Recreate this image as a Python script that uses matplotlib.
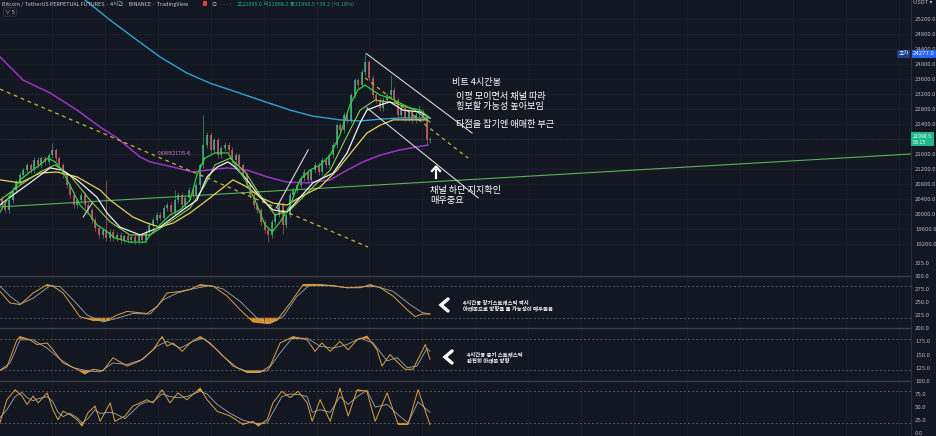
import numpy as np
import matplotlib
matplotlib.use("Agg")
import matplotlib.pyplot as plt
from matplotlib.lines import Line2D
from matplotlib.patches import Rectangle

plt.rcParams['font.family'] = ['Noto Sans CJK KR', 'DejaVu Sans']

W, H = 936, 436
BG = '#131722'
TXT = '#b2b5be'

# ───────────── price data (4h candles) ─────────────
closes = [20240, 20100, 20370, 20640, 20850, 21040, 21170, 21300, 21170, 21440,
          21300, 21490, 21390, 21570, 21700, 21490, 21300, 21040, 20770, 20510,
          20240, 20370, 20510, 20240, 20100, 19840, 19630, 19440, 19570, 19360,
          19520, 19360, 19440, 19300, 19410, 19300, 19380, 19280, 19410, 19300,
          19520, 19710, 19840, 19980, 19900, 20160, 20240, 20050, 20370, 20510,
          20240, 20430, 20640, 20510, 20770, 21300, 21840, 22110, 21710, 21970,
          21570, 21760, 21840, 21710, 21440, 21570, 21300, 21040, 20770, 20510,
          20240, 20100, 19790, 19570, 19440, 19790, 19980, 20240, 19710, 19980,
          20510, 20640, 20770, 20960, 21120, 20910, 21170, 21310, 21120, 21440,
          21310, 21570, 21840, 22370, 22240, 22640, 22510, 23170, 23570, 23440,
          23790, 24050, 23630, 23170, 23040, 22830, 23040, 23170, 23310, 23040,
          22640, 22830, 22560, 22720, 22510, 22640, 22720, 22560, 21970, 21990]
first_open = 20400
high_spikes = {14: 21890, 29: 20900, 48: 20640, 56: 22640, 101: 24277, 108: 23700, 116: 22900}
low_spikes = {33: 19200, 74: 19250, 78: 19480, 118: 21870}

# moving averages  (bar, price)
ma_green = [(0, 20050), (2.8, 20510), (5.6, 20910), (8.3, 21120), (11.1, 21310), (13.3, 21490),
            (15.3, 21390), (17.2, 21170), (19.4, 20770), (22.2, 20240), (25, 19970), (26.9, 19710),
            (29.2, 19570), (31.9, 19360), (36.1, 19250), (40.3, 19250), (41.7, 19440), (44.4, 19710),
            (47.2, 19970), (50, 20110), (52.8, 20370), (54.7, 21040), (56.9, 21490), (59.7, 21630),
            (63.3, 21630), (65.3, 21310), (68.1, 20910), (70.8, 20370), (73.6, 19710), (75.6, 19520),
            (77.8, 19790), (80.6, 20240), (83.3, 20910), (86.1, 21170), (88.9, 21310), (91.7, 21570),
            (94.4, 22110), (97.2, 22910), (99.4, 23310), (101.4, 23440), (103.3, 23310), (105.6, 23170),
            (108.3, 23090), (111.1, 22960), (113.9, 22830), (116.7, 22770), (119.4, 22560)]
ma_lime = [(0, 20370), (5.6, 20770), (11.1, 21120), (15.3, 21310), (19.4, 21040), (25, 20370),
           (30.6, 19790), (36.1, 19440), (41.7, 19440), (47.2, 19790), (52.8, 20160), (56.9, 20770),
           (59.7, 21310), (63.9, 21490), (68.1, 21120), (72.2, 20510), (76.4, 19970), (80.6, 20110),
           (86.1, 20640), (91.7, 21170), (95.8, 21970), (100, 22770), (104.2, 23040), (109.7, 22960),
           (115.3, 22770), (119.4, 22450)]
ma_white = [(0, 20240), (2.8, 20450), (8.3, 20830), (13.9, 21230), (17.2, 21170), (21.4, 20910),
            (26.9, 20450), (29.7, 20030), (33.3, 19650), (38.9, 19440), (44.4, 19650), (50.8, 20110),
            (54.7, 20370), (57.5, 20990), (60.3, 21250), (63.3, 21390), (65.3, 21250), (68.6, 20910),
            (72.2, 20450), (75.8, 20110), (79.7, 20050), (86.9, 20830), (92.5, 21090), (96.4, 21630),
            (100, 22430), (101.9, 22770), (105.6, 22910), (108.3, 22990), (111.9, 22770),
            (116.7, 22720), (119.4, 22560)]
ma_yellow = [(0, 20910), (5.6, 20830), (11.1, 21090), (15.8, 21120), (21.4, 20990), (27.8, 20640),
             (30.6, 20370), (36.9, 19920), (40.8, 19760), (44.4, 19650), (48.1, 19760), (52.8, 20030),
             (57.5, 20370), (61.1, 20640), (64.7, 20910), (68.6, 20720), (72.2, 20450), (75.8, 20290),
             (79.7, 20240), (83.3, 20450), (88.9, 20720), (93.6, 21170), (98.1, 21710), (101.9, 22160),
             (105.6, 22370), (109.2, 22510), (114.7, 22510), (118.6, 22510)]
ma_purple = [(0, 24190), (6.4, 23570), (13.9, 23230), (21.4, 22770), (27.8, 22320), (32.5, 22030),
             (38.9, 21520), (41.7, 21390), (48.1, 21250), (53.6, 21120), (57.5, 21170), (63.1, 21230),
             (68.6, 21170), (74.2, 20990), (79.7, 20850), (85.3, 20830), (91.7, 20910), (96.4, 21170),
             (100.8, 21390), (105.6, 21570), (111.1, 21710), (115.8, 21790), (118.9, 21840)]
ma_cyan = [(22, 25800), (23.6, 25710), (30.6, 25170), (36.9, 24720), (44.4, 24190), (51.9, 23760),
           (58.3, 23490), (65.8, 23250), (73.1, 23010), (80.6, 22770), (86.9, 22610), (94.4, 22510),
           (100, 22480), (105.6, 22530), (111.1, 22560), (118.9, 22560)]

# drawings
trend_green = [(0, 20190), (253, 21600)]
dash_a = [(0, 23330), (102.2, 19120)]
dash_b = [(101.4, 23630), (130, 21490)]
chan_top = [(101.7, 24280), (131.1, 22160)]
chan_bot = [(101.9, 22830), (132.8, 20430)]
small_w1 = [(76.9, 20190), (85.6, 21710)]
small_w2 = [(23.1, 19920), (25.6, 20290)]

# ───────────── stochastic panes (bar, %K / %D) ─────────────
s1_kx = [0, 2.8, 5.6, 9.2, 13.1, 14.7, 17.5, 22.2, 25.8, 29.7, 32.5, 35.3, 40.8, 43.6, 46.4, 50,
         52.8, 55.6, 59.2, 63.1, 66.7, 70.3, 74.2, 76.9, 80.6, 84.2, 88.9, 92.5, 96.4, 100, 102.8,
         105.6, 109.2, 113.1, 115.3, 117.2, 119.4]
s1_k = [70, 48, 45, 67, 83, 80, 67, 22, 15, 15, 25, 32, 28, 41, 67, 70, 74, 83, 80, 61, 35, 12, 9,
        15, 48, 83, 83, 81, 77, 77, 83, 77, 61, 35, 22, 27, 27]
s1_dx = [0, 2.8, 5.6, 9.2, 13.9, 16.7, 20.3, 24.2, 28.6, 32.5, 36.9, 41.7, 45.3, 49.2, 53.6, 58.3,
         61.9, 66.7, 71.4, 75, 78.6, 82.5, 86.1, 91.7, 96.4, 100.8, 104.7, 109.2, 113.9, 117.2, 119.4]
s1_d = [80, 61, 46, 57, 81, 79, 54, 25, 12, 19, 28, 27, 54, 67, 75, 81, 75, 51, 19, 9, 22, 61, 83,
        81, 77, 79, 79, 70, 45, 30, 27]

s2_kx = [0, 1.9, 4.7, 5.6, 8.3, 10.3, 13.1, 14.7, 17.5, 21.4, 23.6, 25.8, 28.6, 31.4, 35.3, 38.9,
         42.5, 45, 46.4, 48.1, 50.6, 52.8, 55.6, 58.3, 61.9, 65.8, 68.6, 72.2, 75, 77.8, 81.4, 85.3,
         87.5, 89.4, 91.7, 94.4, 96.7, 99.2, 101.9, 104.7, 106.1, 108.3, 110.6, 112.5, 114.7, 118.1,
         119.4]
s2_k = [20, 26, 78, 84, 78, 69, 72, 59, 34, 22, 13, 22, 19, 44, 28, 38, 59, 84, 66, 72, 56, 72, 84,
        72, 47, 25, 16, 16, 28, 72, 84, 78, 56, 72, 56, 75, 59, 78, 85, 59, 28, 50, 34, 22, 22, 69, 41]
s2_dx = [0, 2.8, 5.6, 9.2, 13.1, 16.7, 20.3, 24.2, 27.8, 31.4, 35.3, 39.7, 43.6, 46.4, 50, 53.6,
         56.4, 60.3, 64.7, 69.4, 74.2, 77.8, 81.1, 85.3, 88.9, 92.5, 96.4, 100, 103.6, 107.5, 110.3,
         113.1, 115.8, 118.6, 119.4]
s2_d = [20, 34, 78, 78, 62, 41, 25, 19, 17, 34, 31, 41, 66, 75, 62, 75, 81, 59, 28, 16, 19, 53, 81,
        81, 66, 62, 69, 81, 72, 38, 44, 25, 28, 62, 56]

s3_x = [0, 1.9, 4.2, 6.1, 7.5, 9.2, 10.6, 13.1, 14.7, 16.1, 17.5, 19.4, 21.4, 22.8, 24.4, 26.4,
        27.8, 30.6, 31.9, 34.7, 36.9, 38.9, 40.8, 42.5, 45, 47.2, 49.4, 51.9, 55.6, 57.5, 60.3, 63.9,
        67.5, 70.3, 71.7, 74.2, 75.8, 78.3, 80.6, 82.8, 85.3, 86.7, 88.9, 91.7, 94.4, 96.7, 99.2,
        101.9, 104.2, 107.5, 110.6, 113.3, 116.1, 119.4]
s3_k = [20, 64, 83, 71, 55, 71, 58, 77, 45, 26, 42, 36, 26, 14, 39, 52, 23, 58, 23, 33, 52, 58, 64,
        58, 83, 58, 77, 64, 86, 64, 42, 33, 17, 23, 14, 26, 58, 80, 68, 80, 58, 23, 64, 23, 86, 33,
        83, 80, 23, 77, 17, 17, 83, 17]
s3_d = [30, 45, 70, 78, 68, 62, 66, 70, 60, 40, 32, 38, 30, 20, 28, 45, 38, 40, 38, 28, 42, 55, 60,
        60, 75, 70, 68, 70, 80, 75, 55, 38, 25, 20, 18, 20, 40, 70, 75, 74, 70, 40, 45, 40, 70, 55,
        70, 82, 50, 55, 35, 20, 60, 40]

# ───────────── figure ─────────────
fig = plt.figure(figsize=(W / 100, H / 100), dpi=100, facecolor=BG)
fx = lambda px: px / W
fy = lambda py: 1 - py / H

ax = fig.add_axes([0, 1 - 262 / H, 911 / W, 262 / H], facecolor=BG)
ax.set_xlim(0, 253)
ax.set_ylim(18720, 25707)

grid_x = np.arange(14.4, 253, 14.7)
ax.set_xticks(grid_x)
ax.grid(color='#1d2230', lw=0.5)

# candles
c = np.array(closes, float)
o = np.r_[first_open, c[:-1]]
hi = np.maximum(o, c) + 70
lo = np.minimum(o, c) - 70
for i, v in high_spikes.items():
    hi[i] = v
for i, v in low_spikes.items():
    lo[i] = v
xb = np.arange(len(c)) + 0.5
up = c >= o
col = np.where(up, '#4fb58c', '#d9616d')
ax.vlines(xb, lo, hi, colors=col, lw=0.5, alpha=0.8, zorder=2)
ax.bar(xb, np.maximum(np.abs(c - o), 20), bottom=np.minimum(o, c), width=0.55,
       color=col, alpha=0.75, lw=0, zorder=2)

def pline(a, pts, **kw):
    x, y = zip(*pts)
    a.plot(x, y, **kw)

pline(ax, ma_cyan, color='#2fa4cf', lw=1.0, zorder=3)
pline(ax, ma_purple, color='#9b35c2', lw=1.1, zorder=3)
pline(ax, ma_yellow, color='#e6d35a', lw=0.9, zorder=4)
pline(ax, ma_lime, color='#8fce4a', lw=0.8, zorder=4)
pline(ax, ma_white, color='#f2f2f2', lw=0.9, zorder=5)
pline(ax, ma_green, color='#2fd13a', lw=0.9, zorder=5)

pline(ax, trend_green, color='#58b157', lw=0.8, zorder=3)
pline(ax, dash_a, color='#c9b43a', lw=0.9, ls=(0, (3, 3)), zorder=3)
pline(ax, dash_b, color='#c9b43a', lw=0.9, ls=(0, (3, 3)), zorder=3)
for seg in (chan_top, chan_bot, small_w1, small_w2):
    pline(ax, seg, color='#d8d8d8', lw=0.8, zorder=6)

ax.axhline(closes[-1] + 0.5, color='#22ab94', lw=0.4, ls=':', alpha=0.6)
ax.text(43.9, 21627, '0.8885(21735.4)', fontsize=3.3, color='#e07ccf', va='center', zorder=7)

# axis styling (22000 sits under the live price tag)
price_ticks = [p for p in range(19200, 25201, 400) if p != 22000]
for s in ('top', 'left', 'bottom'):
    ax.spines[s].set_visible(False)
ax.spines['right'].set_color('#2a2e39')
ax.yaxis.tick_right()
ax.set_yticks(price_ticks)
ax.yaxis.set_major_formatter('{x:.1f}')
ax.tick_params(axis='y', length=0, pad=3, labelsize=4.3, labelcolor=TXT)
ax.tick_params(axis='x', length=0, labelbottom=False)

ytr = ax.get_yaxis_transform()
ax.text(1.0025, 24277, '24277.0', transform=ytr, fontsize=4.3, color='white', va='center',
        bbox=dict(boxstyle='square,pad=0.25', fc='#2962ff', ec='none'), clip_on=False)
ax.text(0.9865, 24277, '고가', transform=ytr, fontsize=4.0, color='white', va='center',
        bbox=dict(boxstyle='square,pad=0.25', fc='#1e3f8a', ec='none'), clip_on=False)
ax.text(1.0025, closes[-1], '21990.5\n58:15', transform=ytr, fontsize=3.8, color='white',
        va='center', linespacing=1.1,
        bbox=dict(boxstyle='square,pad=0.35', fc='#1fb88a', ec='none'), clip_on=False)

# ───────────── stochastic axes ─────────────
ax2 = fig.add_axes([0, 0, 911 / W, 174 / H], facecolor=BG)
ax2.set_xlim(0, 253)
ax2.set_ylim(-5, 326)
ax2.set_xticks(grid_x)
ax2.grid(axis='x', color='#1d2230', lw=0.5)
for lvl in (100, 200, 300):
    ax2.axhline(lvl, color='#3a3e4a', lw=1.0)
for off in (0, 100, 200):
    for lvl in (20, 80):
        ax2.axhline(off + lvl, color='#6b6f7b', lw=0.5, ls=(0, (3, 3)))

K_COL, D_COL, FILL = '#dba23f', '#a6a8b0', '#e38a1c'
for off, kx, k, dx, d in ((200, s1_kx, s1_k, s1_dx, s1_d),
                          (100, s2_kx, s2_k, s2_dx, s2_d),
                          (0, s3_x, s3_k, s3_x, s3_d)):
    kx, k = np.array(kx), np.array(k, float)
    ax2.fill_between(kx, k + off, off + 80, where=k > 80, interpolate=True, color=FILL, lw=0)
    ax2.fill_between(kx, k + off, off + 20, where=k < 20, interpolate=True, color=FILL, lw=0)
    ax2.plot(dx, np.array(d) + off, color=D_COL, lw=0.6)
    ax2.plot(kx, k + off, color=K_COL, lw=0.7)

for s in ('top', 'left', 'bottom'):
    ax2.spines[s].set_visible(False)
ax2.spines['right'].set_color('#2a2e39')
ax2.yaxis.tick_right()
ax2.set_yticks(np.arange(0, 326, 25))
ax2.yaxis.set_major_formatter('{x:.1f}')
ax2.tick_params(axis='y', length=0, pad=3, labelsize=4.3, labelcolor=TXT)
ax2.tick_params(axis='x', length=0, labelbottom=False)

# ───────────── header ─────────────
fig.text(fx(2), fy(4), 'Bitcoin / TetherUS PERPETUAL FUTURES · 4시간 · BINANCE · TradingView',
         fontsize=3.9, color='#c9ccd4', va='center')
fig.add_artist(Rectangle((fx(203), fy(6.5)), 4 / W, 5 / H, transform=fig.transFigure,
                         color='#e03b3b', lw=0))
fig.text(fx(212), fy(4), '◎  ··· :', fontsize=3.8, color='#9598a1', va='center')
fig.text(fx(237), fy(4), '고22095.0 저21868.2 종21990.5 +39.2 (+0.18%)',
         fontsize=4.0, color='#26a69a', va='center')
fig.text(fx(5), fy(12), '∨ 5', fontsize=4.0, color='#c9ccd4', va='center',
         bbox=dict(boxstyle='round,pad=0.3', fc=BG, ec='#363a45', lw=0.5))
fig.text(fx(913), fy(3), 'USDT ▾', fontsize=4.2, color=TXT, va='center')

# ───────────── annotations ─────────────
note = dict(color='white', fontsize=6.6, va='center')
fig.text(fx(452), fy(82), '비트 4시간봉', **note)
fig.text(fx(456), fy(96), '이평 모이면서 채널 따라', **note)
fig.text(fx(456), fy(106), '횡보할 가능성 높아보임', **note)
fig.text(fx(456), fy(124), '타점을 잡기엔 애매한 부근', **note)
fig.text(fx(430), fy(190), '채널 하단 지지확인', **note)
fig.text(fx(430), fy(200), '매우중요', **note)
fig.add_artist(Line2D([fx(436), fx(436)], [fy(178), fy(170)], transform=fig.transFigure,
                      color='white', lw=1.6))
fig.add_artist(Line2D([fx(432), fx(436), fx(440)], [fy(171), fy(166.5), fy(171)],
                      transform=fig.transFigure, color='white', lw=1.6))

for tip_x, tip_y in ((441, 305), (445, 357)):
    fig.add_artist(Line2D([fx(tip_x + 7), fx(tip_x), fx(tip_x + 7)],
                          [fy(tip_y - 6), fy(tip_y), fy(tip_y + 6)],
                          transform=fig.transFigure, color='white', lw=2.4,
                          solid_capstyle='round', solid_joinstyle='miter'))

small = dict(color='white', fontsize=3.9, va='center', fontweight='bold')
fig.text(fx(463), fy(302.5), '4시간봉 장기스토캐스틱 역시', **small)
fig.text(fx(463), fy(308.7), '아래쪽으로 방향을 틀 가능성이 매우높음', **small)
fig.text(fx(467), fy(354), '4시간봉 중기 스토캐스틱', **small)
fig.text(fx(467), fy(360), '완전히 아래쪽 방향', **small)

fig.savefig('out.png', dpi=100, facecolor=BG)
